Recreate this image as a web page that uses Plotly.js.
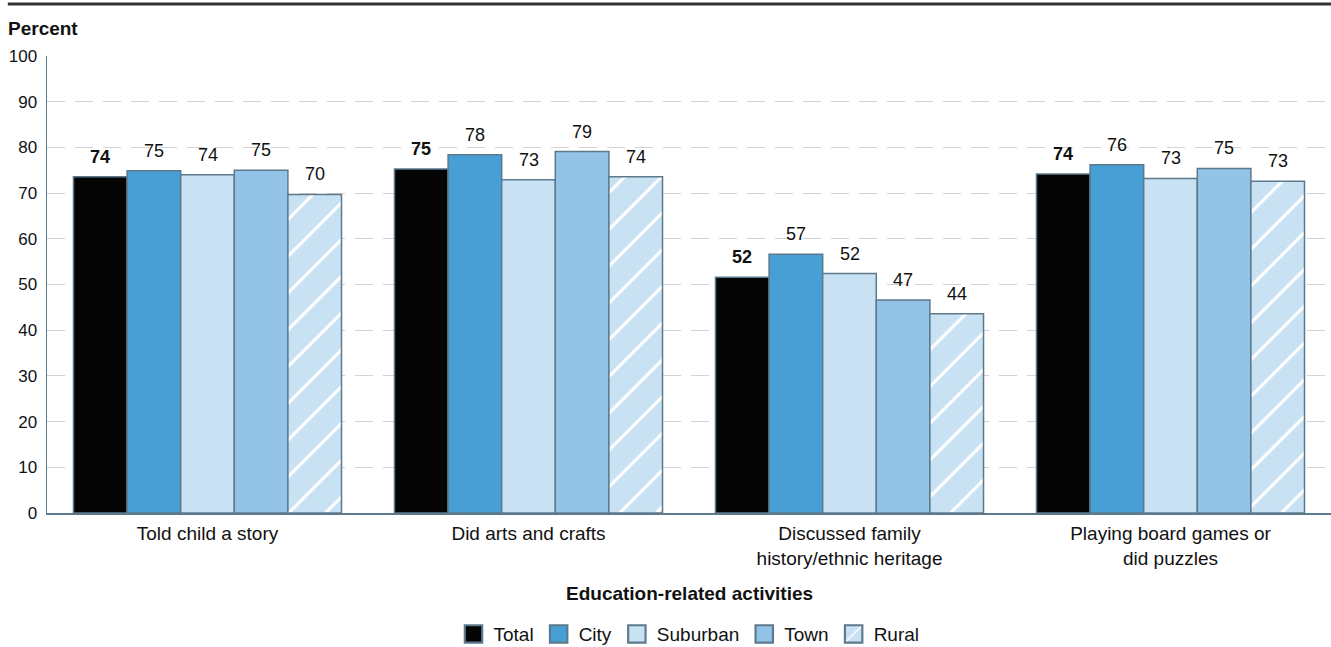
<!DOCTYPE html>
<html>
<head>
<meta charset="utf-8">
<script src="https://cdn.plot.ly/plotly-3.0.1.min.js"></script>
<style>
  html, body { margin: 0; padding: 0; background: #fff; }
  #chart { width: 1331px; height: 647px; }
  /* larger legend swatches (keeps plotly's own 20px offset) */
  #chart .legendpoints path { transform: translate(20px, 0px) scale(1.45); }
</style>
</head>
<body>
<div id="chart"></div>
<script>
// Activities (x categories)
const categories = [
  "Told child a story",
  "Did arts and crafts",
  "Discussed family<br>history/ethnic heritage",
  "Playing board games or<br>did puzzles"
];

// Percent of children, by locale
const seriesNames = ["Total", "City", "Suburban", "Town", "Rural"];
const total    = [73.6, 75.3, 51.6, 74.2];
const city     = [74.9, 78.4, 56.6, 76.2];
const suburban = [74.0, 72.9, 52.4, 73.2];
const town     = [75.0, 79.1, 46.6, 75.4];
const rural    = [69.7, 73.6, 43.6, 72.6];

const yTicks = [0, 10, 20, 30, 40, 50, 60, 70, 80, 90, 100];

const seriesValues = [total, city, suburban, town, rural];
const fills = ["#050505", "#479fd6", "#c8e1f3", "#93c3e7", "#c8e1f3"];
const outline = "#5d7a8d";
const FONT = "Liberation Sans, Arial, Helvetica, sans-serif";
const INK = "#111111";

const BARGAP = 0.165;
const nSeries = seriesNames.length;
const barW = (1 - BARGAP) / nSeries;

const traces = seriesNames.map((name, j) => {
  const t = {
    type: "bar",
    name: name,
    x: categories,
    y: seriesValues[j],
    marker: {
      color: fills[j],
      line: { color: outline, width: 1.5 }
    },
    hoverinfo: "skip"
  };
  if (name === "Rural") {
    t.marker.pattern = {
      shape: "/",
      bgcolor: fills[j],
      fgcolor: "#ffffff",
      fgopacity: 1,
      size: 26,
      solidity: 0.12
    };
  }
  return t;
});

// Value labels above each bar
const annotations = [];
seriesValues.forEach((vals, j) => {
  vals.forEach((v, i) => {
    annotations.push({
      x: i + (j - (nSeries - 1) / 2) * barW,
      y: v,
      xref: "x", yref: "y",
      text: j === 0 ? "<b>" + Math.round(v) + "</b>" : String(Math.round(v)),
      showarrow: false,
      yanchor: "middle",
      yshift: 20,
      font: { family: FONT, size: 18, color: INK }
    });
  });
});

// Y axis caption
annotations.push({
  xref: "paper", yref: "paper",
  x: -0.0318, y: 1.0,
  xanchor: "left", yanchor: "middle", yshift: 28,
  text: "<b>Percent</b>", showarrow: false,
  font: { family: FONT, size: 19, color: INK }
});
// X axis caption
annotations.push({
  xref: "paper", yref: "paper",
  x: 0.5, y: 0,
  xanchor: "center", yanchor: "middle", yshift: -80,
  text: "<b>Education-related activities</b>", showarrow: false,
  font: { family: FONT, size: 19, color: INK }
});

const layout = {
  width: 1331,
  height: 647,
  margin: { l: 47, r: 0, t: 56, b: 134, pad: 0, autoexpand: false },
  paper_bgcolor: "#ffffff",
  plot_bgcolor: "#ffffff",
  font: { family: FONT, size: 17, color: INK },
  barmode: "group",
  bargap: BARGAP,
  bargroupgap: 0,
  showlegend: true,
  legend: {
    orientation: "h",
    x: 0.5, xanchor: "center",
    y: -0.265, yanchor: "middle",
    font: { family: FONT, size: 19, color: INK },
    traceorder: "normal",
    itemclick: false,
    itemdoubleclick: false
  },
  xaxis: {
    type: "category",
    range: [-0.5, categories.length - 0.5],
    showline: true,
    linecolor: outline,
    linewidth: 1.5,
    ticks: "",
    ticklabelstandoff: 3,
    tickfont: { family: FONT, size: 19, color: INK },
    showgrid: false,
    automargin: false,
    fixedrange: true
  },
  yaxis: {
    range: [0, 100],
    tickvals: yTicks,
    ticktext: yTicks.map(String),
    showline: true,
    linecolor: outline,
    linewidth: 1.5,
    ticks: "",
    ticklabelstandoff: 5,
    tickfont: { family: FONT, size: 17, color: INK },
    showgrid: true,
    gridcolor: "#d3d3d3",
    gridwidth: 1,
    griddash: "18px,10px",
    zeroline: false,
    automargin: false,
    fixedrange: true
  },
  shapes: [{
    type: "line",
    xref: "paper", yref: "paper",
    x0: -0.0305, x1: 1.0,
    y0: 1 + (56 - 4) / 457, y1: 1 + (56 - 4) / 457,
    line: { color: "#333333", width: 3 }
  }],
  annotations: annotations
};

Plotly.newPlot("chart", traces, layout, { displayModeBar: false, staticPlot: true });
</script>
</body>
</html>
